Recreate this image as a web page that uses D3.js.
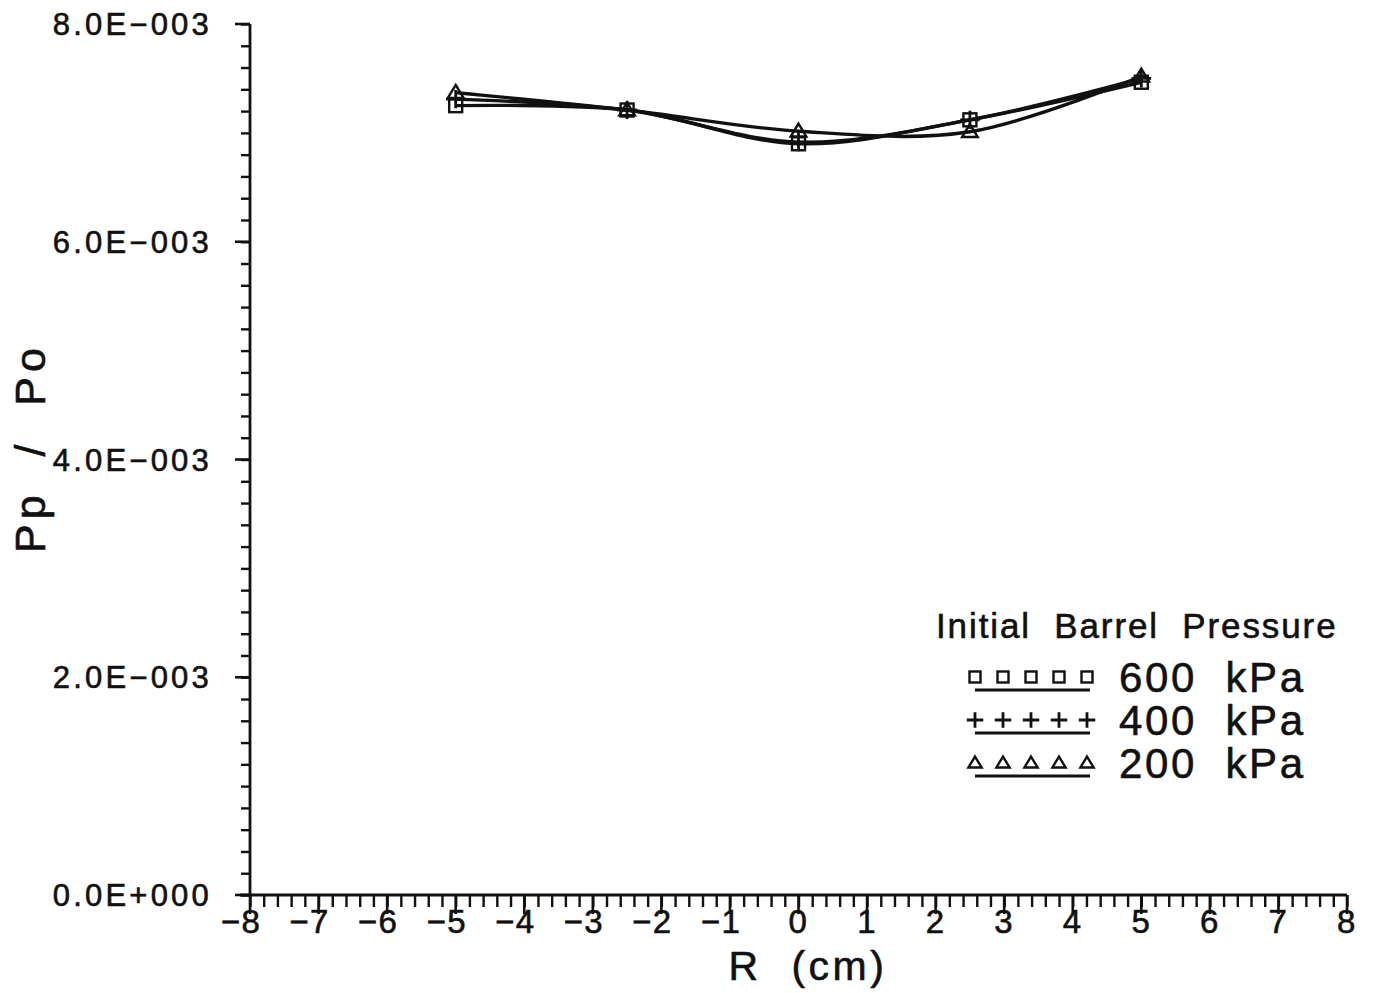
<!DOCTYPE html>
<html>
<head>
<meta charset="utf-8">
<script src="https://cdn.jsdelivr.net/npm/d3@7"></script>
<style>
html,body{margin:0;padding:0;background:#fff;}
svg{display:block;}
text{font-family:"Liberation Sans","DejaVu Sans",sans-serif;fill:#111;stroke:#111;stroke-width:0.6px;}
</style>
</head>
<body>
<svg id="chart" width="1375" height="993"></svg>
<script>
const rValues = [-5, -2.5, 0, 2.5, 5];
const seriesNames = ["600  kPa", "400  kPa", "200  kPa"];
const seriesMarkers = ["square", "plus", "triangle"];
const values600 = [7.25e-3, 7.21e-3, 6.90e-3, 7.12e-3, 7.465e-3];
const values400 = [7.31e-3, 7.21e-3, 6.915e-3, 7.12e-3, 7.50e-3];
const values200 = [7.37e-3, 7.21e-3, 7.015e-3, 7.01e-3, 7.52e-3];
const xTicks = [-8,-7,-6,-5,-4,-3,-2,-1,0,1,2,3,4,5,6,7,8];
const yTicks = [0, 2e-3, 4e-3, 6e-3, 8e-3];
const yTickLabels = ["0.0E+000","2.0E-003","4.0E-003","6.0E-003","8.0E-003"];
const legendTitle = "Initial  Barrel  Pressure";
const xTitle = "R  (cm)";
const yTitle = "Pp  /  Po";

const series = [values600, values400, values200].map((v, i) => ({
  name: seriesNames[i], marker: seriesMarkers[i],
  points: rValues.map((r, j) => ({r, v: v[j]}))
}));

const svg = d3.select("#chart");
const x = d3.scaleLinear().domain([-8, 8]).range([250, 1347]);
const y = d3.scaleLinear().domain([0, 8e-3]).range([895, 24]);
const ink = "#111";

// Y axis
const yMinor = d3.range(0, 8e-3 + 1e-9, 0.2e-3);
const yAxisG = svg.append("g").attr("transform", `translate(${x(-8)},0)`);
yAxisG.call(d3.axisLeft(y).tickValues(yMinor).tickSize(9).tickFormat(""))
  .call(g => g.select(".domain").remove());
yAxisG.selectAll("line").attr("stroke", ink).attr("stroke-width", 2.4);
yAxisG.append("line").attr("x1", 0).attr("x2", 0).attr("y1", y(8e-3)).attr("y2", y(0))
  .attr("stroke", ink).attr("stroke-width", 2.8);
yAxisG.selectAll(".major").data(yTicks).enter().append("line")
  .attr("x1", -15).attr("x2", 0).attr("y1", d => y(d)).attr("y2", d => y(d))
  .attr("stroke", ink).attr("stroke-width", 2.6);
yAxisG.selectAll(".ylab").data(yTicks).enter().append("text")
  .attr("x", -38).attr("y", d => y(d)).attr("dy", "0.36em")
  .attr("text-anchor", "end").attr("font-size", 31).attr("letter-spacing", 3.2)
  .text((d, i) => yTickLabels[i].replace("-", "\u2212"));

// X axis
const xMinor = d3.range(-8, 8.0001, 0.2);
const xAxisG = svg.append("g").attr("transform", `translate(0,${y(0)})`);
xAxisG.call(d3.axisBottom(x).tickValues(xMinor).tickSize(12).tickFormat(""))
  .call(g => g.select(".domain").remove());
xAxisG.selectAll("line").attr("stroke", ink).attr("stroke-width", 2.4);
xAxisG.append("line").attr("x1", x(-8) - 10).attr("x2", x(8)).attr("y1", 0).attr("y2", 0)
  .attr("stroke", ink).attr("stroke-width", 2.8);
xAxisG.selectAll(".major").data(xTicks).enter().append("line")
  .attr("x1", d => x(d)).attr("x2", d => x(d)).attr("y1", 0).attr("y2", 19)
  .attr("stroke", ink).attr("stroke-width", 2.6);
xAxisG.selectAll(".xlab").data(xTicks).enter().append("text")
  .attr("x", d => x(d) - (d < 0 ? 9 : 0)).attr("y", 38)
  .attr("text-anchor", "middle").attr("font-size", 33).attr("letter-spacing", 1.5)
  .text(d => d < 0 ? "\u2212" + Math.abs(d) : String(d));

// Axis titles
svg.append("text").attr("x", 808).attr("y", 980).attr("text-anchor", "middle")
  .attr("font-size", 41).attr("letter-spacing", 3.5).style("white-space", "pre")
  .text(xTitle);
svg.append("text").attr("transform", "translate(45,448) rotate(-90)")
  .attr("text-anchor", "middle").attr("font-size", 43).attr("letter-spacing", 5).style("white-space", "pre")
  .text(yTitle);

// Marker drawing
function drawMarker(g, type, cx, cy, s) {
  if (type === "square") {
    g.append("rect").attr("x", cx - s/2).attr("y", cy - s/2).attr("width", s).attr("height", s)
      .attr("fill", "none").attr("stroke", ink).attr("stroke-width", 2.4);
  } else if (type === "plus") {
    g.append("path").attr("d", `M${cx - s*0.75},${cy}H${cx + s*0.75}M${cx},${cy - s*0.7}V${cy + s*0.7}`)
      .attr("stroke", ink).attr("stroke-width", 2.8).attr("fill", "none");
  } else {
    const h = s * 0.9;
    g.append("path").attr("d", `M${cx},${cy - h*0.65}L${cx + s*0.6},${cy + h*0.45}L${cx - s*0.6},${cy + h*0.45}Z`)
      .attr("fill", "none").attr("stroke", ink).attr("stroke-width", 2.4);
  }
}

// Lines
const line = d3.line().x(d => x(d.r)).y(d => y(d.v)).curve(d3.curveCatmullRom.alpha(0.5));
const plot = svg.append("g");
series.forEach(s => {
  plot.append("path").datum(s.points).attr("d", line)
    .attr("fill", "none").attr("stroke", ink).attr("stroke-width", 3.4);
});
series.forEach(s => {
  s.points.forEach(p => drawMarker(plot, s.marker, x(p.r), y(p.v), 13));
});

// Legend
const leg = svg.append("g");
leg.append("text").attr("x", 936).attr("y", 638).attr("font-size", 35)
  .style("white-space", "pre").attr("letter-spacing", 1.9).text(legendTitle);
series.forEach((s, i) => {
  const cy = 677 + i * 43;
  for (let k = 0; k < 5; k++) drawMarker(leg, s.marker, 975 + k * 28, cy, 11);
  leg.append("line").attr("x1", 975).attr("x2", 1090).attr("y1", cy + 13).attr("y2", cy + 13)
    .attr("stroke", ink).attr("stroke-width", 2.8);
  leg.append("text").attr("x", 1119).attr("y", cy).attr("dy", "0.36em").attr("font-size", 42)
    .style("white-space", "pre").attr("letter-spacing", 2.6).text(s.name);
});
</script>
</body>
</html>
